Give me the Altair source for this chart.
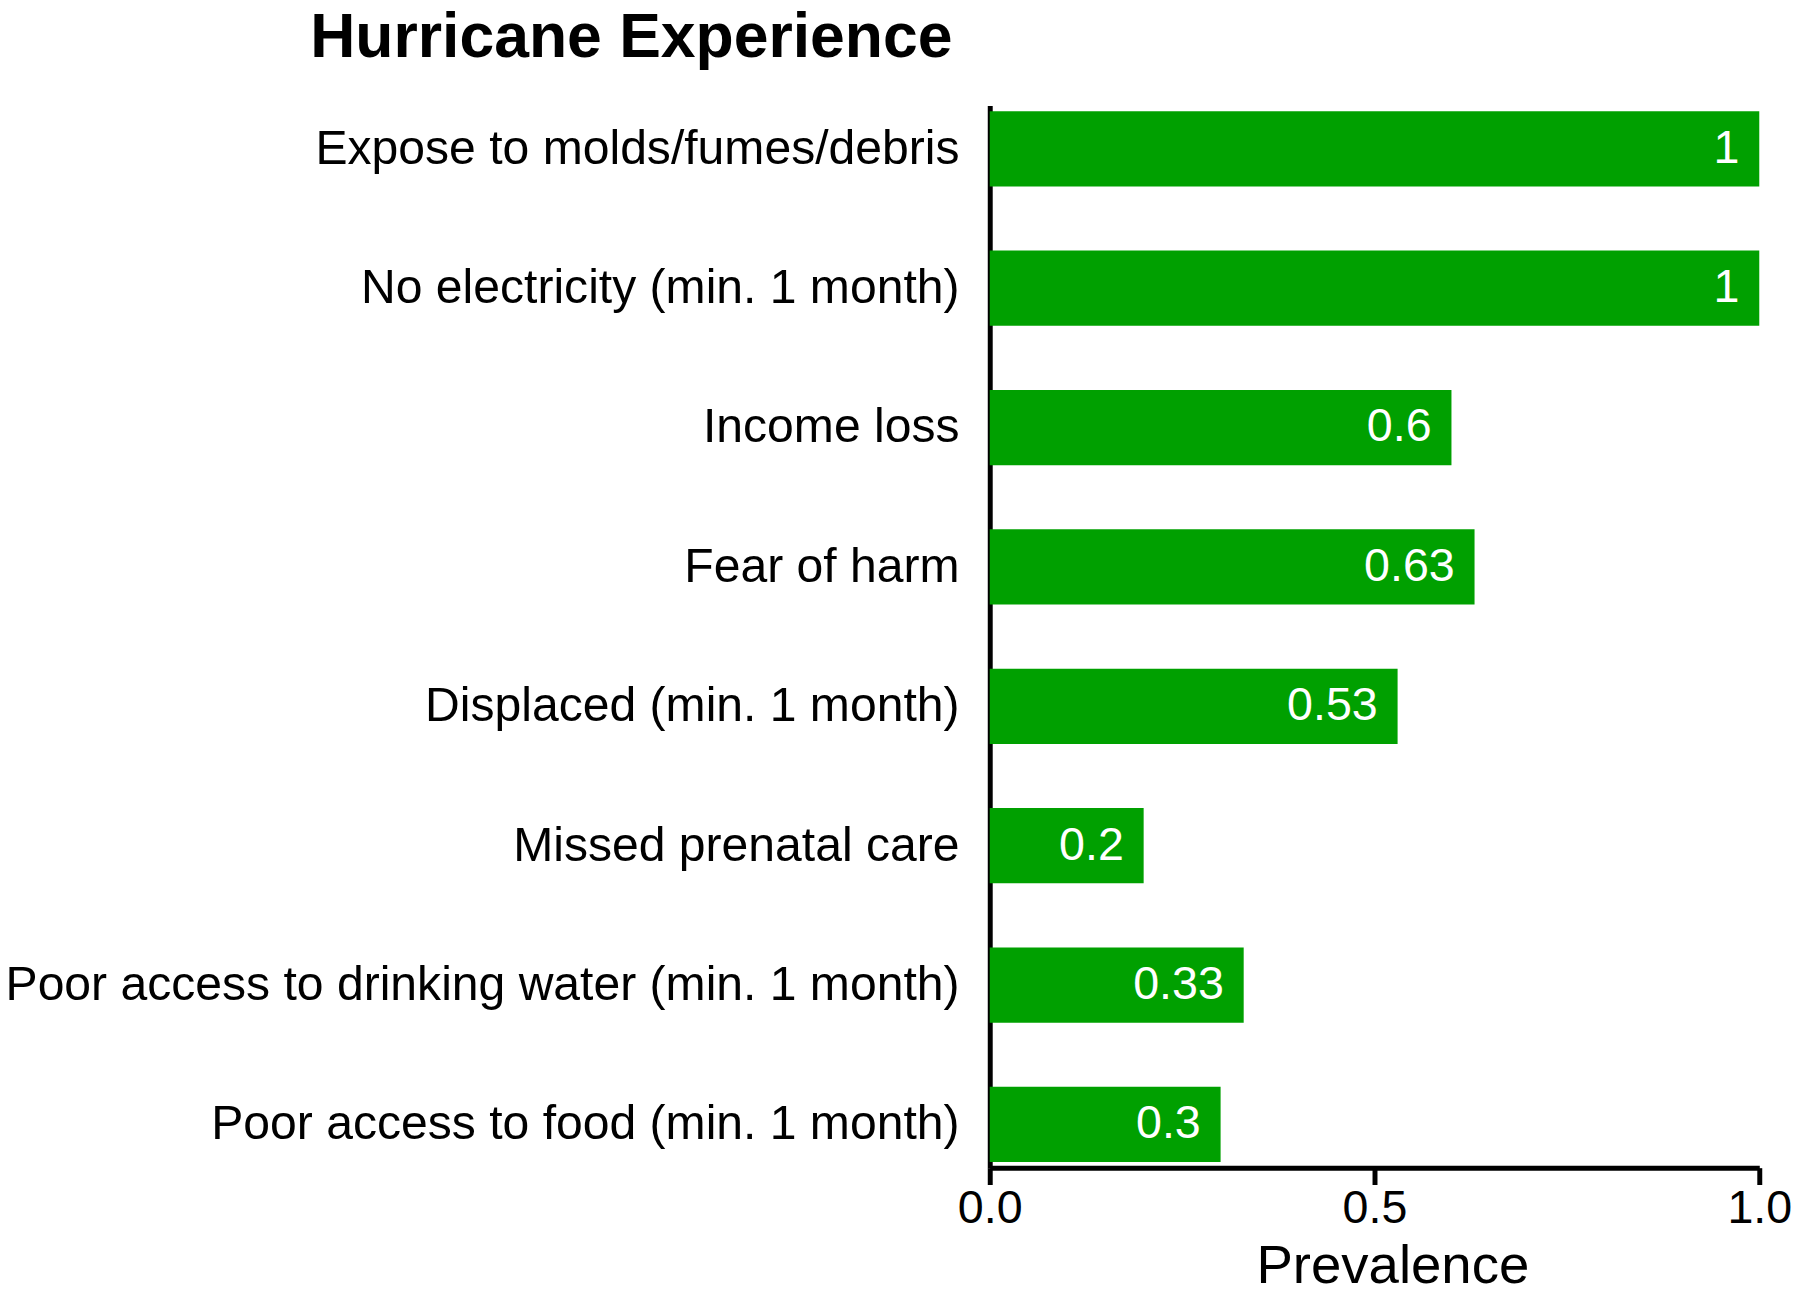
import altair as alt
import pandas as pd

categories = [
    "Expose to molds/fumes/debris",
    "No electricity (min. 1 month)",
    "Income loss",
    "Fear of harm",
    "Displaced (min. 1 month)",
    "Missed prenatal care",
    "Poor access to drinking water (min. 1 month)",
    "Poor access to food (min. 1 month)",
]
values = [1, 1, 0.6, 0.63, 0.53, 0.2, 0.33, 0.3]
x_ticks = [0.0, 0.5, 1.0]

df = pd.DataFrame({"category": categories, "value": values})

FONT = "Liberation Sans"
GREEN = "#00A000"

y_enc = alt.Y(
    "category:N",
    sort=categories,
    title=None,
    scale=alt.Scale(paddingInner=0.46, paddingOuter=0.04),
    axis=alt.Axis(
        domainColor="black",
        domainWidth=5,
        ticks=False,
        labelFontSize=48.5,
        labelFont=FONT,
        labelColor="black",
        labelPadding=31,
        labelLimit=2000,
    ),
)

x_enc = alt.X(
    "value:Q",
    title="Prevalence",
    scale=alt.Scale(domain=[0, 1], nice=False, zero=True),
    axis=alt.Axis(
        values=x_ticks,
        format=".1f",
        grid=False,
        domainColor="black",
        domainWidth=5,
        tickColor="black",
        tickWidth=5,
        tickSize=17,
        labelFontSize=47,
        labelFont=FONT,
        labelColor="black",
        labelPadding=1,
        labelFlush=False,
        titleFontSize=55,
        titleFont=FONT,
        titleFontWeight="normal",
        titleColor="black",
        titlePadding=9,
        titleX=406,
        titleAlign="center",
    ),
)

bars = alt.Chart(df).mark_bar(color=GREEN).encode(x=x_enc, y=y_enc)

labels = alt.Chart(df).mark_text(
    align="right", baseline="middle", dx=-20, color="white",
    fontSize=47, font=FONT
).encode(
    x=alt.X("value:Q"),
    y=alt.Y("category:N", sort=categories),
    text=alt.Text("value:Q"),
)

chart = (
    alt.layer(bars, labels)
    .properties(
        width=776,
        height=1071,
        padding={"left": -4, "top": -6, "right": 0, "bottom": 0},
        title=alt.TitleParams(
            "Hurricane Experience",
            anchor="start",
            frame="bounds",
            dx=308,
            fontSize=63,
            font=FONT,
            fontWeight="bold",
            color="black",
            offset=36,
        ),
    )
    .configure_view(stroke=None)
)

chart.save("out.html", embed_options={"renderer": "svg", "actions": False})
